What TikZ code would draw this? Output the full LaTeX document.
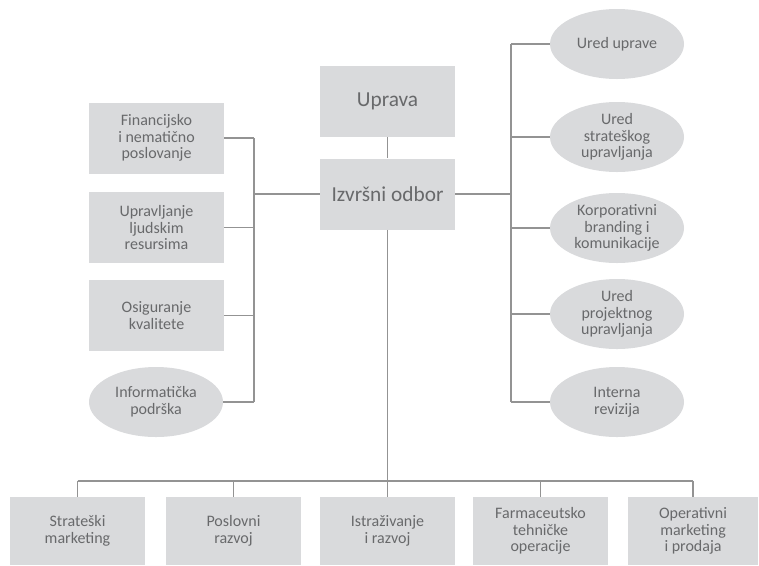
\documentclass[tikz,border=0pt]{standalone}
\usepackage{fontspec}
\setmainfont{Carlito}
\usetikzlibrary{shapes.geometric}
\definecolor{boxgray}{HTML}{D9DADC}
\definecolor{txtgray}{HTML}{68696B}
\definecolor{lngray}{HTML}{939393}
\tikzset{
  box/.style={rectangle, fill=boxgray, inner sep=0pt, minimum width=135*0.75pt, minimum height=71*0.75pt, text=txtgray, align=center, font=\fontsize{12}{12.6}\selectfont},
  bigbox/.style={box, font=\fontsize{16}{19}\selectfont},
  oval/.style={ellipse, fill=boxgray, inner sep=0pt, minimum width=134*0.75pt, minimum height=70*0.75pt, text=txtgray, align=center, font=\fontsize{12}{12.6}\selectfont},
  conn/.style={draw=lngray, line width=0.8pt}
}
\begin{document}
\begin{tikzpicture}[x=0.75pt, y=-0.75pt]
\useasboundingbox (0,0) rectangle (759,565);
% center
\node[bigbox] (uprava) at (387.5,101.5) {Uprava};
\node[bigbox] (odbor) at (387.5,194) {Izvršni odbor};
% left
\node[box] (fin) at (156.5,138) {Financijsko\\i nematično\\poslovanje};
\node[box] (ljud) at (156.5,227.5) {Upravljanje\\ljudskim\\resursima};
\node[box] (kval) at (156.5,315.5) {Osiguranje\\kvalitete};
\node[oval] (info) at (156,402) {Informatička\\podrška};
% right
\node[oval] (ured) at (617,44) {Ured uprave};
\node[oval] (strat) at (617,137) {Ured\\strateškog\\upravljanja};
\node[oval] (korp) at (617,228) {Korporativni\\branding i\\komunikacije};
\node[oval] (proj) at (617,314) {Ured\\projektnog\\upravljanja};
\node[oval] (rev) at (617,402) {Interna\\revizija};
% bottom
\node[box, minimum height=68*0.75pt] (sm) at (77.5,531) {Strateški\\marketing};
\node[box, minimum height=68*0.75pt] (pr) at (233.5,531) {Poslovni\\razvoj};
\node[box, minimum height=68*0.75pt] (ir) at (387.5,531) {Istraživanje\\i razvoj};
\node[box, minimum height=68*0.75pt] (fto) at (540.5,531) {Farmaceutsko\\tehničke\\operacije};
\node[box, minimum height=68*0.75pt, minimum width=130*0.75pt] (omp) at (693,531) {Operativni\\marketing\\i prodaja};
% bus coordinates
\coordinate (L) at (254,191);
\coordinate (R) at (511,191);
\coordinate (B) at (387.5,481);
% connectors
\draw[conn] (uprava.south) -- (odbor.north);
\draw[conn] (odbor.west) -- (odbor.west -| L);
\draw[conn] (fin.east -| L) -- (info.east -| L);
\draw[conn] (fin.east) -- (fin.east -| L);
\draw[conn] (ljud.east) -- (ljud.east -| L);
\draw[conn] (kval.east) -- (kval.east -| L);
\draw[conn] (info.east) -- (info.east -| L);
\draw[conn] (odbor.east) -- (odbor.east -| R);
\draw[conn] (ured.west -| R) -- (rev.west -| R);
\draw[conn] (ured.west -| R) -- (ured.west);
\draw[conn] (strat.west -| R) -- (strat.west);
\draw[conn] (korp.west -| R) -- (korp.west);
\draw[conn] (proj.west -| R) -- (proj.west);
\draw[conn] (rev.west -| R) -- (rev.west);
\draw[conn] (odbor.south) -- (ir.north);
\draw[conn] (sm.north |- B) -- (omp.north |- B);
\draw[conn] (sm.north |- B) -- (sm.north);
\draw[conn] (pr.north |- B) -- (pr.north);
\draw[conn] (fto.north |- B) -- (fto.north);
\draw[conn] (omp.north |- B) -- (omp.north);
\end{tikzpicture}
\end{document}
